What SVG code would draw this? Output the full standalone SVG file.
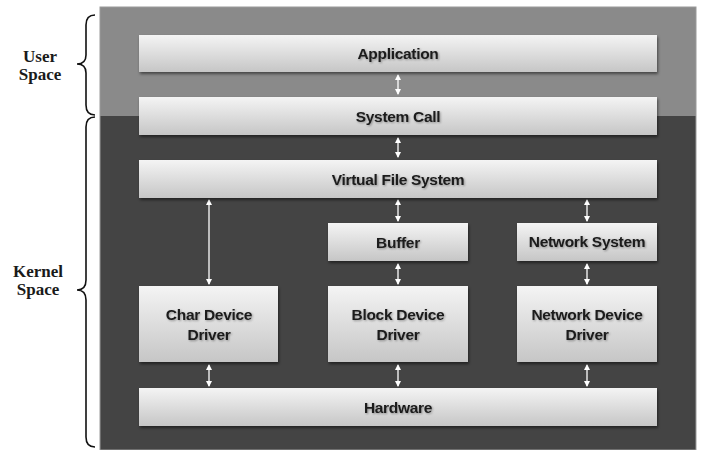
<svg xmlns="http://www.w3.org/2000/svg" width="702" height="450" viewBox="0 0 702 450">
<defs>
<linearGradient id="g" x1="0" y1="0" x2="0" y2="1">
<stop offset="0" stop-color="#f4f4f4"/>
<stop offset="1" stop-color="#c6c6c6"/>
</linearGradient>
<filter id="sh" x="-5%" y="-20%" width="110%" height="150%">
<feDropShadow dx="1" dy="2" stdDeviation="1.5" flood-color="#000" flood-opacity="0.5"/>
</filter>
<filter id="tsh" x="-10%" y="-30%" width="120%" height="160%">
<feDropShadow dx="1" dy="1" stdDeviation="0.8" flood-color="#000" flood-opacity="0.35"/>
</filter>
<marker id="ah" viewBox="0 0 6 6" refX="5" refY="3" markerWidth="6" markerHeight="6" orient="auto-start-reverse" markerUnits="userSpaceOnUse">
<path d="M0,0 L6,3 L0,6 z" fill="#fff"/>
</marker>
</defs>
<style>
.box{fill:url(#g);filter:url(#sh)}
.t{font-family:"Liberation Sans",Arial,sans-serif;font-weight:bold;font-size:15.5px;letter-spacing:-0.3px;fill:#1a1a1a;text-anchor:middle;filter:url(#tsh)}
.side{font-family:"Liberation Serif","Times New Roman",serif;font-weight:bold;font-size:17px;fill:#1a1a1a;text-anchor:middle}
.c{stroke:#fff;stroke-width:1.3;fill:none;marker-start:url(#ah);marker-end:url(#ah)}
.brace{fill:none;stroke:#111;stroke-width:1.6}
</style>
<rect width="702" height="450" fill="#fff"/>
<rect x="100" y="7" width="596" height="443" fill="#444"/>
<rect x="100" y="7" width="596" height="109" fill="#8a8a8a"/>
<rect x="100" y="7" width="596" height="443" fill="none" stroke="#9a9a9a" stroke-width="1"/>

<path class="brace" d="M95,15 Q86,15 86,25 L86,55 Q86,64 77,64 Q86,64 86,73 L86,105 Q86,115 95,115"/>
<path class="brace" d="M95,117 Q86,117 86,127 L86,280 Q86,290 77,290 Q86,290 86,300 L86,437 Q86,447 95,447"/>
<text class="side" x="40" y="62">User</text>
<text class="side" x="40" y="80">Space</text>
<text class="side" x="38" y="277">Kernel</text>
<text class="side" x="38" y="295">Space</text>

<g id="connectors">
<line class="c" x1="398" y1="75" x2="398" y2="94"/>
<line class="c" x1="398" y1="138" x2="398" y2="157"/>
<line class="c" x1="209" y1="200" x2="209" y2="284"/>
<line class="c" x1="398" y1="200" x2="398" y2="221"/>
<line class="c" x1="587" y1="200" x2="587" y2="221"/>
<line class="c" x1="398" y1="264" x2="398" y2="284"/>
<line class="c" x1="587" y1="264" x2="587" y2="284"/>
<line class="c" x1="209" y1="365" x2="209" y2="386"/>
<line class="c" x1="398" y1="365" x2="398" y2="386"/>
<line class="c" x1="587" y1="365" x2="587" y2="386"/>
</g>

<g id="application"><rect class="box" x="139" y="35" width="518" height="37"/><text class="t" x="398" y="59">Application</text></g>
<g id="system-call"><rect class="box" x="139" y="97" width="518" height="38"/><text class="t" x="398" y="122">System Call</text></g>
<g id="vfs"><rect class="box" x="139" y="160" width="518" height="38"/><text class="t" x="398" y="185">Virtual File System</text></g>
<g id="buffer"><rect class="box" x="328" y="223" width="140" height="38"/><text class="t" x="398" y="248">Buffer</text></g>
<g id="network-system"><rect class="box" x="517" y="223" width="140" height="38"/><text class="t" x="587" y="247">Network System</text></g>
<g id="char-driver"><rect class="box" x="139" y="286" width="139" height="76"/><text class="t" x="209" y="320">Char Device</text><text class="t" x="209" y="340">Driver</text></g>
<g id="block-driver"><rect class="box" x="328" y="286" width="140" height="76"/><text class="t" x="398" y="320">Block Device</text><text class="t" x="398" y="340">Driver</text></g>
<g id="net-driver"><rect class="box" x="517" y="286" width="140" height="76"/><text class="t" x="587" y="320">Network Device</text><text class="t" x="587" y="340">Driver</text></g>
<g id="hardware"><rect class="box" x="139" y="388" width="518" height="38"/><text class="t" x="398" y="413">Hardware</text></g>
</svg>
